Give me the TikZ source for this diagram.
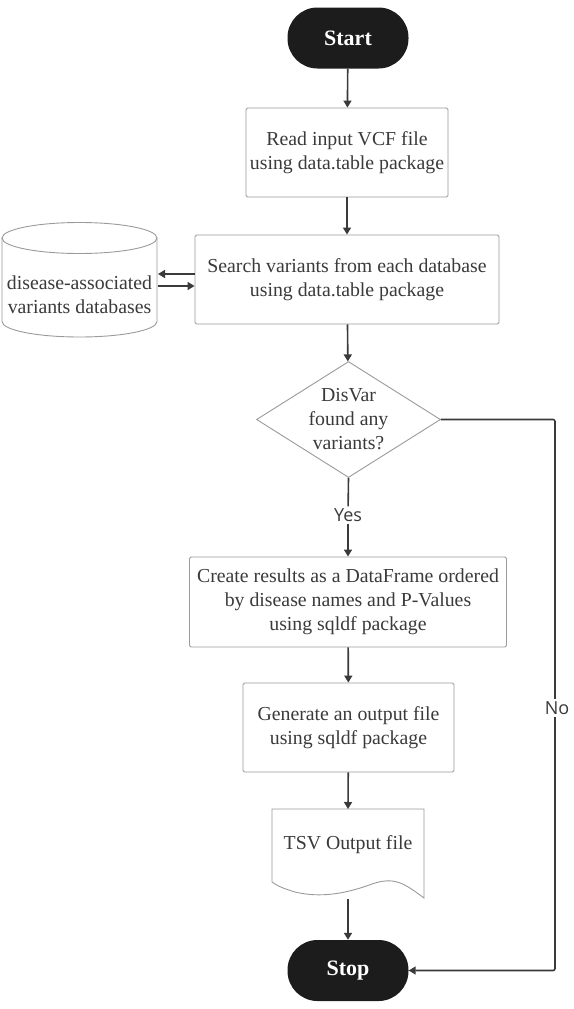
\documentclass[tikz,border=0pt]{standalone}
\usepackage{fontspec}
\setmainfont{Liberation Serif}
\newfontfamily\lblfont{Open Sans}
\usetikzlibrary{shapes.geometric,arrows.meta}
\definecolor{txt}{HTML}{3A3A3A}
\definecolor{brd}{HTML}{9A9A9A}
\definecolor{ink}{HTML}{1C1C1C}
\begin{document}
\begin{tikzpicture}[x=1pt,y=-1pt,
  every node/.style={text=txt},
  bodyfont/.style={font=\fontsize{19.8}{24}\selectfont},
  proc/.style={draw=brd,line width=0.9pt,rounded corners=1.5pt,align=center,inner sep=0pt,bodyfont},
  term/.style={fill=ink,rounded corners=30pt,text=white,font=\bfseries\fontsize{22}{26}\selectfont,minimum width=121pt,minimum height=61pt,inner sep=0pt},
  arr/.style={draw=txt,line width=1.6pt,-{Triangle[length=7pt,width=8pt]}},
  lbl/.style={font=\lblfont\fontsize{18}{21}\selectfont,fill=white,inner sep=2pt}]
\useasboundingbox (0,0) rectangle (573,1009);
\node[term] (start) at (348,38) {Start};
\node[proc,minimum width=202pt,minimum height=89pt] (read) at (347,152.5) {Read input VCF file\\using data.table package};
\node[proc,minimum width=304pt,minimum height=89pt] (search) at (347,279.5) {Search variants from each database\\using data.table package};
% cylinder
\draw[brd,line width=0.9pt,fill=white] (2,238) -- (2,321.5) arc[start angle=180,end angle=0,x radius=77.5,y radius=15.5] -- (157,238);
\draw[brd,line width=0.9pt] (79.5,238) ellipse[x radius=77.5,y radius=15.5];
\node[align=center,inner sep=0pt,bodyfont] (db) at (79.5,295) {disease-associated\\variants databases};
\coordinate (dbr1) at (158,274);
\coordinate (dbr2) at (158,286);
\draw[arr] (search.west |- dbr1) -- (dbr1);
\draw[arr] (dbr2) -- (search.west |- dbr2);
\node[diamond,draw=brd,line width=0.9pt,aspect=1.6,minimum width=184pt,minimum height=116pt,inner sep=0pt,align=center,bodyfont] (dec) at (348.5,419.5) {DisVar\\found any\\variants?};
\node[lbl] (yes) at (348,515) {Yes};
\node[proc,minimum width=317pt,minimum height=90pt] (create) at (348,602) {Create results as a DataFrame ordered\\by disease names and P-Values\\using sqldf package};
\node[proc,minimum width=211pt,minimum height=89pt] (gen) at (348.5,727.5) {Generate an output file\\using sqldf package};
% document shape
\draw[brd,line width=0.9pt,fill=white] (272,809) -- (424,809) -- (424,898)
  .. controls (405,884) and (395,876) .. (372,884)
  .. controls (345,894) and (320,898) .. (295,892)
  .. controls (285,889) and (277,886) .. (272,882) -- cycle;
\node[inner sep=0pt,bodyfont] (tsv) at (348,845) {TSV Output file};
\coordinate (tsvb) at (348,899);
\node[term] (stop) at (348,970.5) {Stop};
\draw[arr] (start) -- (read);
\draw[arr] (read) -- (search);
\draw[arr] (search) -- (dec);
\draw[txt,line width=1.6pt] (dec.south) -- (yes);
\draw[arr] (yes) -- (create);
\draw[arr] (create) -- (gen);
\draw[arr] (gen) -- (348,809);
\draw[arr] (tsvb) -- (stop);
\coordinate (corner1) at (555,419.5);
\coordinate (corner2) at (555,970.5);
\draw[arr,rounded corners=2pt] (dec.east) -- (corner1) -- (corner2) -- (stop.east);
\node[lbl] (no) at (557,708) {No};
\end{tikzpicture}
\end{document}
